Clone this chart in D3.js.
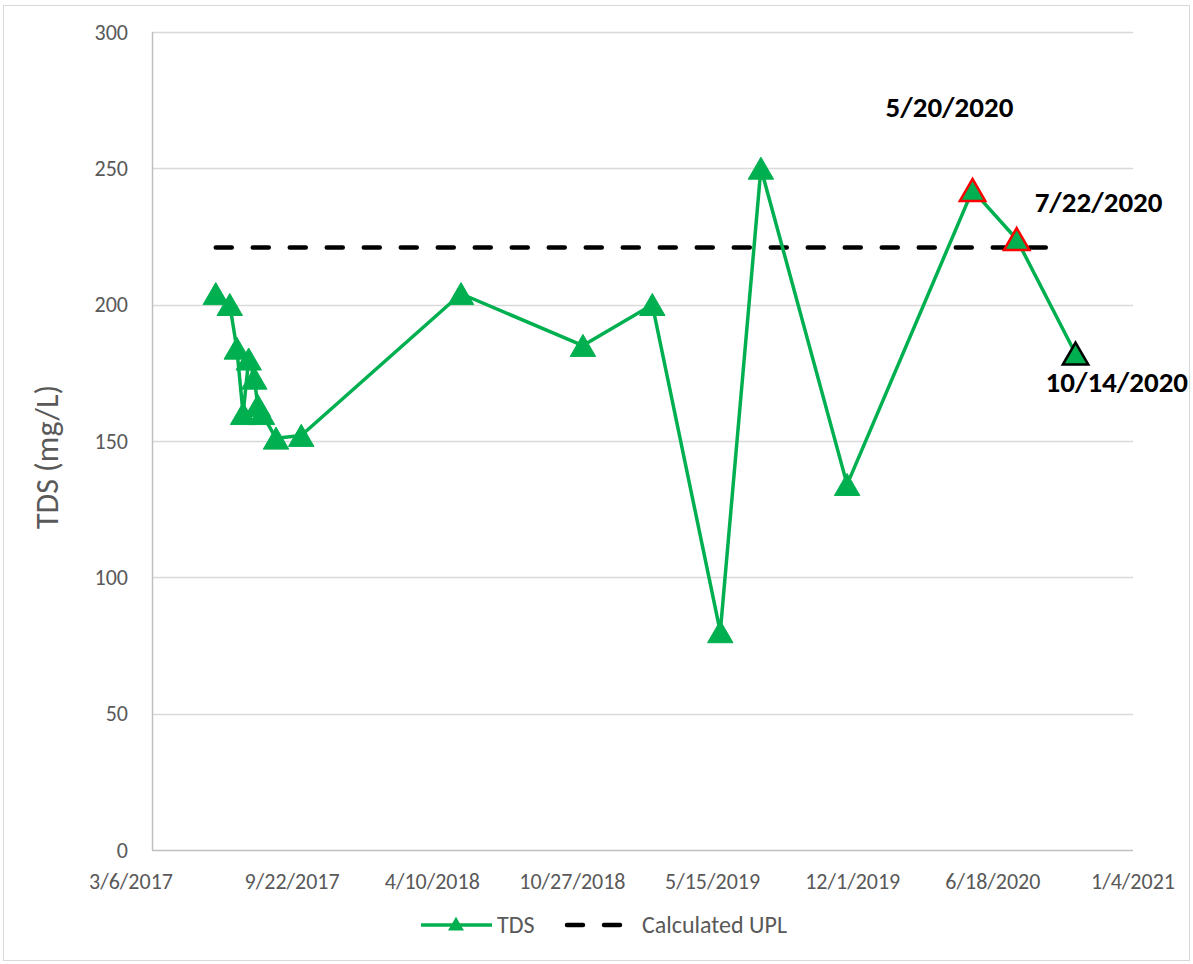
<!DOCTYPE html>
<html>
<head>
<meta charset="utf-8">
<script src="https://cdn.jsdelivr.net/npm/d3@7"></script>
<style>
  body { margin: 0; background: #fff; }
  svg { font-family: Carlito, Calibri, Lato, "Open Sans", sans-serif; }
  .tick-label { fill: #595959; font-size: 22px; }
  .legend-label { fill: #595959; font-size: 24px; }
  .note { fill: #000; font-size: 29px; font-weight: bold; }
</style>
</head>
<body>
<svg id="chart" width="1193" height="964"></svg>
<script>
// sample dates and TDS values (mg/L)
var sampleDates = ["2017-06-05", "2017-06-25", "2017-07-05", "2017-07-14", "2017-07-22",
                   "2017-07-30", "2017-08-04", "2017-08-10", "2017-08-30", "2017-10-05",
                   "2018-05-21", "2018-11-11", "2019-02-18", "2019-05-26", "2019-07-23",
                   "2019-11-23", "2020-05-20", "2020-07-22", "2020-10-14"];
var tdsValues = [204, 200, 184, 160, 180, 173, 163, 160, 151, 152,
                 204, 185, 200, 80, 250, 134, 242, 224, 182];
// marker outline: exceedances in red, latest sample in black
var markerOutline = [null, null, null, null, null, null, null, null, null, null,
                     null, null, null, null, null, null, "#ff0000", "#ff0000", "#000000"];

var uplValue = 221;
var uplDates = ["2017-06-05", "2020-09-18"];

var xTickDates = ["2017-03-06", "2017-09-22", "2018-04-10", "2018-10-27",
                  "2019-05-15", "2019-12-01", "2020-06-18", "2021-01-04"];
var yTicks = [0, 50, 100, 150, 200, 250, 300];

var callouts = [
  {label: "5/20/2020", idx: 16, dx: -87, dy: -73},
  {label: "7/22/2020", idx: 17, dx: 18, dy: -27},
  {label: "10/14/2020", idx: 18, dx: -30, dy: 38}
];

var parse = d3.timeParse("%Y-%m-%d"),
    fmt = d3.timeFormat("%-m/%-d/%Y");

var svg = d3.select("#chart"),
    margin = {top: 32, right: 60, bottom: 114, left: 152},
    width = 1193 - margin.left - margin.right,
    height = 964 - margin.top - margin.bottom;

var green = "#00b050";

// outer chart frame
svg.append("rect")
    .attr("x", 3.5).attr("y", 5.5)
    .attr("width", 1186).attr("height", 955)
    .attr("fill", "none").attr("stroke", "#d9d9d9");

var g = svg.append("g").attr("transform", "translate(" + margin.left + "," + margin.top + ")");

var x = d3.scaleTime()
    .domain([parse(xTickDates[0]), parse(xTickDates[xTickDates.length - 1])])
    .range([0, width]);
var y = d3.scaleLinear().domain([0, 300]).range([height, 0]);

// gridlines
g.selectAll(".grid").data(yTicks.slice(1)).enter().append("line")
    .attr("x1", 0).attr("x2", width)
    .attr("y1", function(d) { return Math.round(y(d)) + 0.5; })
    .attr("y2", function(d) { return Math.round(y(d)) + 0.5; })
    .attr("stroke", "#d9d9d9").attr("stroke-width", 1.5);

// axes lines
g.append("line").attr("x1", 0.5).attr("x2", 0.5).attr("y1", 0).attr("y2", height)
    .attr("stroke", "#bfbfbf").attr("stroke-width", 1.5);
g.append("line").attr("x1", 0).attr("x2", width).attr("y1", height + 0.5).attr("y2", height + 0.5)
    .attr("stroke", "#bfbfbf").attr("stroke-width", 1.5);

// tick labels
g.selectAll(".ytl").data(yTicks).enter().append("text")
    .attr("class", "tick-label")
    .attr("x", -24).attr("y", function(d) { return y(d); })
    .attr("dy", "0.35em").attr("text-anchor", "end")
    .text(function(d) { return d; });

g.selectAll(".xtl").data(xTickDates).enter().append("text")
    .attr("class", "tick-label")
    .attr("x", function(d, i) { return x(parse(d)) - (i === 0 ? 21 : 0); }) // first label sits left of its tick
    .attr("y", height + 39)
    .attr("text-anchor", "middle")
    .text(function(d) { return fmt(parse(d)); });

// y axis title
svg.append("text")
    .attr("transform", "translate(58,457) rotate(-90)")
    .attr("text-anchor", "middle")
    .attr("fill", "#595959").attr("font-size", "32px")
    .text("TDS (mg/L)");

// UPL dashed line
g.append("line")
    .attr("x1", x(parse(uplDates[0]))).attr("x2", x(parse(uplDates[1])))
    .attr("y1", y(uplValue)).attr("y2", y(uplValue))
    .attr("stroke", "#000").attr("stroke-width", 4.5)
    .attr("stroke-linecap", "round")
    .attr("stroke-dasharray", "16,21");

var points = sampleDates.map(function(d, i) {
  return {date: parse(d), value: tdsValues[i], outline: markerOutline[i]};
});

var line = d3.line()
    .x(function(d) { return x(d.date); })
    .y(function(d) { return y(d.value); });

g.append("path").datum(points)
    .attr("d", line)
    .attr("fill", "none").attr("stroke", green)
    .attr("stroke-width", 3.5).attr("stroke-linejoin", "round");

var tri = d3.symbol().type(d3.symbolTriangle).size(280);

g.selectAll(".marker").data(points).enter().append("path")
    .attr("transform", function(d) { return "translate(" + x(d.date) + "," + (y(d.value) + 3.5) + ")"; })
    .attr("d", tri)
    .attr("fill", green)
    .attr("stroke", function(d) { return d.outline || green; })
    .attr("stroke-width", function(d) { return d.outline ? 2.5 : 1; })
    .attr("stroke-linejoin", "miter");

// date callouts
g.selectAll(".note").data(callouts).enter().append("text")
    .attr("class", "note")
    .attr("x", function(d) { return x(points[d.idx].date) + d.dx; })
    .attr("y", function(d) { return y(points[d.idx].value) + d.dy; })
    .text(function(d) { return d.label; });

// legend
var legend = svg.append("g").attr("transform", "translate(0,925)");
legend.append("line").attr("x1", 421).attr("x2", 492).attr("y1", 0).attr("y2", 0)
    .attr("stroke", green).attr("stroke-width", 3.5);
legend.append("path").attr("transform", "translate(456,1)")
    .attr("d", d3.symbol().type(d3.symbolTriangle).size(110))
    .attr("fill", green);
legend.append("text").attr("class", "legend-label").attr("x", 497).attr("y", 0).attr("dy", "0.35em").text("TDS");
legend.append("line").attr("x1", 567).attr("x2", 624).attr("y1", 0).attr("y2", 0)
    .attr("stroke", "#000").attr("stroke-width", 4.5)
    .attr("stroke-linecap", "round").attr("stroke-dasharray", "16,21");
legend.append("text").attr("class", "legend-label").attr("x", 642).attr("y", 0).attr("dy", "0.35em").text("Calculated UPL");
</script>
</body>
</html>
